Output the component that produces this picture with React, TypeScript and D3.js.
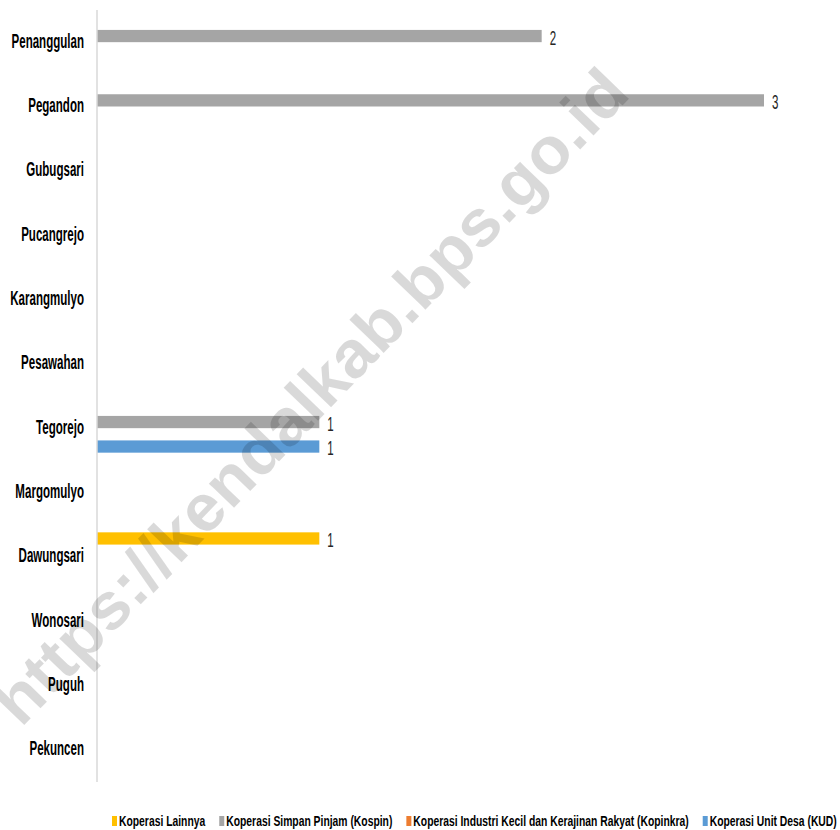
import * as d3 from "d3";
import { useEffect, useRef } from "react";

const villages = [
  "Penanggulan",
  "Pegandon",
  "Gubugsari",
  "Pucangrejo",
  "Karangmulyo",
  "Pesawahan",
  "Tegorejo",
  "Margomulyo",
  "Dawungsari",
  "Wonosari",
  "Puguh",
  "Pekuncen",
];

const seriesNames = [
  "Koperasi Lainnya",
  "Koperasi Simpan Pinjam (Kospin)",
  "Koperasi Industri Kecil dan Kerajinan Rakyat (Kopinkra)",
  "Koperasi Unit Desa (KUD)",
];

const seriesColors = ["#FFC000", "#A5A5A5", "#ED7D31", "#5B9BD5"];

// null = empty cell (no bar, no label)
const lainnya = [null, null, null, null, null, null, null, null, 1, null, null, null];
const kospin = [2, 3, null, null, null, null, 1, null, null, null, null, null];
const kopinkra = [null, null, null, null, null, null, null, null, null, null, null, null];
const kud = [null, null, null, null, null, null, 1, null, null, null, null, null];

const seriesValues = [lainnya, kospin, kopinkra, kud];

const FONT = "'Liberation Sans', Arial, sans-serif";

export default function App() {
  const chartRef = useRef<HTMLDivElement>(null);

  useEffect(() => {
    const width = 840;
    const height = 830;
    const marginTop = 10;
    const marginBottom = 48;
    const marginLeft = 97;
    const plotRight = 764;

    const root = d3.select(chartRef.current);
    root.selectAll("*").remove();

    const svg = root
      .append("svg")
      .attr("width", width)
      .attr("height", height)
      .style("position", "absolute")
      .style("left", "0px")
      .style("top", "0px")
      .style("background", "#fff");

    const x = d3.scaleLinear().domain([0, 3]).range([marginLeft, plotRight]);

    const y = d3
      .scaleBand<string>()
      .domain(villages)
      .range([marginTop, height - marginBottom])
      .paddingInner(0)
      .paddingOuter(0);

    const groupH = 49;
    const ySub = d3
      .scaleBand<string>()
      .domain(seriesNames)
      .range([-groupH / 2, groupH / 2]);

    // squeezed text, the source picture is compressed horizontally
    const narrowText = (
      parent: d3.Selection<SVGGElement, unknown, null, undefined>,
      tx: number,
      ty: number,
      sx: number,
    ) =>
      parent
        .append("g")
        .attr("transform", `translate(${tx},${ty}) scale(${sx},1)`)
        .append("text")
        .attr("font-family", FONT);

    // category labels
    const cats = svg.append("g");
    villages.forEach((v) => {
      narrowText(cats, marginLeft - 13, (y(v) ?? 0) + y.bandwidth() / 2 + 5.5, 0.55)
        .attr("text-anchor", "end")
        .attr("font-weight", "bold")
        .attr("font-size", 21)
        .attr("fill", "#000")
        .text(v);
    });

    // bars
    seriesNames.forEach((name, si) => {
      const rows = villages
        .map((v, i) => ({ v, value: seriesValues[si][i] }))
        .filter((d) => d.value !== null) as { v: string; value: number }[];

      const g = svg.append("g");
      g.selectAll("rect")
        .data(rows)
        .join("rect")
        .attr("x", x(0))
        .attr("y", (d) => (y(d.v) ?? 0) + y.bandwidth() / 2 + (ySub(name) ?? 0))
        .attr("width", (d) => x(d.value) - x(0))
        .attr("height", ySub.bandwidth())
        .attr("fill", seriesColors[si]);

      rows.forEach((d) => {
        const cy = (y(d.v) ?? 0) + y.bandwidth() / 2 + (ySub(name) ?? 0) + ySub.bandwidth() / 2;
        narrowText(g, x(d.value) + 8, cy + 8.5, 0.55)
          .attr("font-size", 21)
          .attr("fill", "#262626")
          .text(d.value);
      });
    });

    // category axis line
    svg
      .append("line")
      .attr("x1", x(0))
      .attr("x2", x(0))
      .attr("y1", marginTop)
      .attr("y2", height - marginBottom)
      .attr("stroke", "#D9D9D9")
      .attr("stroke-width", 1.5);

    // legend
    const legend = svg.append("g");
    const legendScale = 0.74;
    let lx = 112;
    seriesNames.forEach((name, i) => {
      legend
        .append("rect")
        .attr("x", lx)
        .attr("y", 816)
        .attr("width", 5)
        .attr("height", 10)
        .attr("fill", seriesColors[i]);
      const t = narrowText(legend, lx + 7, 825.5, legendScale)
        .attr("font-weight", "bold")
        .attr("font-size", 14)
        .attr("fill", "#000")
        .text(name);
      const w = (t.node() as SVGTextElement).getComputedTextLength() * legendScale;
      lx = lx + 7 + w + 14;
    });

    // watermark
    svg
      .append("text")
      .attr("transform", "translate(314,400) rotate(-46)")
      .attr("text-anchor", "middle")
      .attr("dominant-baseline", "middle")
      .attr("font-family", FONT)
      .attr("font-weight", "bold")
      .attr("font-size", 66)
      .attr("fill", "#000")
      .attr("fill-opacity", 0.15)
      .attr("textLength", 880)
      .attr("lengthAdjust", "spacingAndGlyphs")
      .text("https://kendalkab.bps.go.id");
  }, []);

  return <div ref={chartRef}></div>;
}
